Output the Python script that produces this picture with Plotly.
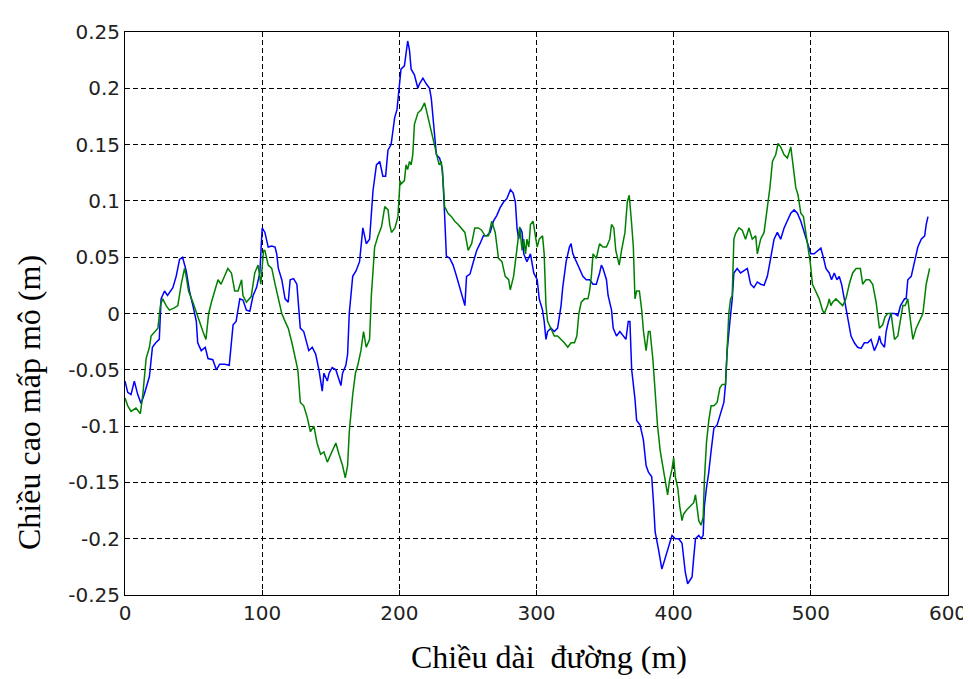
import plotly.graph_objects as go

# ---- data ----
blue_x = [0, 2, 4.4, 6.8, 9.3, 11.7, 14, 17.8, 20, 22.4, 25, 26.3, 28.8, 31, 34.9, 37.3, 39.8, 42, 44.6, 47,
          49.5, 52, 53, 55.6, 58.5, 60.5, 64, 66.6, 69, 72.7, 76, 78.8, 81, 83.7, 86, 88.5, 91, 93.4, 95.9, 98.3,
          100, 102, 104.4, 107, 109.4, 110.6, 111.8, 114.3, 116.7, 119, 120.4, 122.9, 125.3, 126.6, 127.8, 130.3,
          132.8, 134, 136.5, 139, 141.4, 143.8, 145, 147.5, 148.8, 151, 153.7, 156, 157.4, 158.6, 161, 162.3,
          163.5, 166, 168.5, 171, 173.4, 175.9, 178.3, 180.8, 183.3, 185.7, 188, 190, 191.7, 194, 196.6, 198.3,
          200.5, 201.2, 203.7, 206.1, 207.4, 208.6, 211, 213.5, 214.7, 217.2, 219.6, 222, 223.3, 225.7, 227,
          229.4, 231.4, 232.6, 233.6, 234.3, 236.8, 239.2, 241.7, 244.1, 246.6, 247.8, 249, 251.5, 254, 256.4,
          258.8, 261.3, 263.7, 266.2, 268.6, 271, 273.5, 276, 278.4, 281, 283, 284.6, 285.8, 287, 288.2, 289.5,
          290.7, 293, 295.6, 296.8, 298, 300.5, 302, 304.4, 305.6, 306.9, 308.1, 310.5, 313, 315.4, 316.7, 317.9,
          319.1, 320.3, 321.6, 324, 325.2, 326.5, 328.9, 331.4, 333.8, 336.3, 338.7, 341.2, 343.6, 346, 347.3,
          348.5, 351, 352.2, 354.7, 355.9, 358.3, 360.8, 363.2, 365.2, 366.9, 368.1, 369.4, 371.8, 373, 375.5,
          377.9, 379.9, 381.6, 384, 385.3, 386.5, 389, 391.4, 393.9, 396.3, 398.8, 401.2, 403.7, 406.1, 407.3,
          408.5, 410.2, 411.7, 413.4, 414.6, 415.9, 418.3, 420, 421.5, 422.4, 423.9, 425.6, 427.3, 429.3, 431.7,
          434.1, 436.6, 437.8, 439, 441, 442.7, 443.9, 446.3, 448.8, 451.2, 453.7, 456.1, 458.5, 461, 463.4,
          465.9, 468.3, 470.7, 473.2, 475.6, 478, 480.5, 482.9, 485.4, 487.8, 490.2, 492.7, 495.1, 497.6, 500,
          502.4, 504.9, 507.3, 509.3, 511, 513.4, 515.1, 517.1, 519, 520.7, 522.4, 524.4, 526.3, 528, 529.3,
          531.7, 534.1, 536.6, 539, 541.5, 543.9, 546.3, 548.8, 550, 551.2, 553.7, 554.9, 556.6, 558.5, 561,
          563.4, 565.4, 567, 568.3, 569.5, 570.7, 573.2, 575.6, 578, 580.5, 583, 584.1, 585.4]
blue_y = [-0.06, -0.07, -0.072, -0.06, -0.072, -0.08, -0.072, -0.056, -0.03, -0.026, -0.023, 0.013, 0.02, 0.016,
          0.023, 0.033, 0.048, 0.05, 0.038, 0.02, 0.007, -0.007, -0.026, -0.033, -0.03, -0.04, -0.041, -0.05,
          -0.045, -0.045, -0.046, -0.01, -0.007, 0.013, 0.012, 0.003, 0.002, 0.016, 0.023, 0.036,
          0.076, 0.072, 0.059, 0.06, 0.059, 0.053, 0.04, 0.03, 0.013, 0.01, 0.03, 0.031, 0.026, 0.007, -0.013,
          -0.016, -0.026, -0.033, -0.03, -0.036, -0.05, -0.069, -0.053, -0.06, -0.053, -0.048, -0.05, -0.06,
          -0.064, -0.053, -0.046, -0.036, 0.0, 0.033, 0.038, 0.046, 0.076, 0.062, 0.066, 0.109, 0.132, 0.135,
          0.122, 0.122, 0.145, 0.15, 0.174, 0.181, 0.214, 0.217, 0.22, 0.242, 0.234, 0.217, 0.212, 0.2, 0.204,
          0.209, 0.204, 0.2, 0.191, 0.158, 0.141, 0.138, 0.128, 0.099, 0.072, 0.051, 0.049, 0.043, 0.033, 0.023,
          0.013, 0.007, 0.033, 0.035, 0.046, 0.056, 0.062, 0.069, 0.069, 0.072, 0.082, 0.087, 0.094, 0.099,
          0.102, 0.11, 0.107, 0.099, 0.076, 0.066, 0.076, 0.072, 0.053, 0.046, 0.053, 0.046, 0.036, 0.03,
          0.013, 0.003, -0.007, -0.023, -0.016, -0.013, -0.016, -0.013, -0.003, 0.007, 0.023, 0.033, 0.046,
          0.059, 0.062, 0.053, 0.046, 0.04, 0.033, 0.03, 0.03, 0.026, 0.026, 0.036, 0.043, 0.04, 0.03, 0.016,
          0.003, -0.013, -0.02, -0.016, -0.02, -0.023, -0.007, -0.007, -0.05, -0.076, -0.095, -0.099, -0.112,
          -0.135, -0.141, -0.145, -0.168, -0.194, -0.21, -0.227, -0.217, -0.207, -0.197, -0.2, -0.2, -0.204,
          -0.22, -0.23, -0.24, -0.237, -0.234, -0.217, -0.2, -0.197, -0.2, -0.197, -0.171, -0.155, -0.141,
          -0.122, -0.102, -0.099, -0.089, -0.079, -0.063, -0.033, -0.007, 0.013, 0.036, 0.04, 0.036, 0.038,
          0.04, 0.026, 0.023, 0.028, 0.026, 0.025, 0.033, 0.049, 0.066, 0.072, 0.066, 0.076, 0.082, 0.089,
          0.092, 0.089, 0.082, 0.072, 0.062, 0.053, 0.053, 0.056, 0.058, 0.049, 0.04, 0.036, 0.03, 0.036, 0.03,
          0.033, 0.026, 0.013, 0.0, -0.013, -0.02, -0.026, -0.03, -0.031, -0.026, -0.026, -0.023, -0.033,
          -0.026, -0.02, -0.026, -0.03, -0.016, -0.007, 0.0, 0.0, -0.002, 0.007, 0.01, 0.013, 0.013, 0.03,
          0.033, 0.046, 0.059, 0.066, 0.069, 0.079, 0.086]

green_x = [0, 2, 4.4, 8, 11.2, 13, 15.4, 17.8, 19, 21.5, 24, 25.8, 27.5, 30, 32.4, 36, 38.5, 41, 43.4, 44.6,
           46.3, 49.5, 53, 56.8, 59, 61, 63, 65.4, 67.8, 70, 72.7, 75, 77.6, 80, 82.4, 85, 86, 88.5, 92, 94.6,
           97, 99, 101, 102, 104.4, 107, 109.4, 111.8, 114.3, 116.7, 119, 121.7, 124, 126, 127.8, 130.3, 132.8,
           135.2, 137.7, 140, 142.6, 145, 147.5, 150, 153.7, 156, 158.6, 160.6, 162.3, 163.5, 166, 168, 169.7,
           172, 173.9, 175.9, 178.3, 179.6, 182, 184.5, 187, 189.4, 191.8, 193, 194.3, 196.8, 199, 200.5,
           201.2, 203.7, 204.9, 206.1, 207.4, 208.6, 209.8, 211, 213.5, 216, 218.4, 219.6, 222, 224.5, 227,
           229, 230.6, 231.9, 233, 235.5, 238, 240.4, 242.9, 245.3, 247.8, 250.2, 252.7, 255, 257.6, 260,
           262.5, 265, 267.4, 269.9, 272.3, 274.8, 277.2, 279.7, 280.9, 283.3, 285.8, 287.7, 289.5, 290.7, 292,
           293, 294.4, 295.6, 297.5, 299.3, 300.5, 302, 304.4, 305.6, 306.9, 308.1, 310.5, 313, 315.4, 317.9,
           320.3, 322.8, 325.2, 327.7, 329.4, 330.9, 332.6, 335, 337.5, 338.7, 340, 341.2, 343.6, 346, 348.5,
           351, 353.4, 354.7, 356.4, 357.8, 360.3, 362, 364.5, 366.2, 367.6, 369.4, 370.6, 371.8, 373, 375,
           376.7, 378, 379.9, 381.6, 382.8, 384.8, 386.5, 388.2, 390.2, 392.2, 393.9, 395.6, 397, 398.8, 400,
           401.2, 403, 404.4, 406.1, 407.3, 409.8, 412.2, 414.6, 415.9, 417.1, 418.3, 420, 421.5, 422.4, 423.9,
           425.6, 427.3, 429.3, 431.7, 433.7, 435.4, 437.8, 439, 440.2, 441.5, 442.7, 443.9, 445.1, 447.6, 450,
           452.4, 454.9, 457.3, 459.8, 461, 463.4, 465.9, 468.3, 470.2, 472, 474.4, 476.1, 478, 480.5, 482.9,
           485.4, 487.8, 489, 490.7, 492.7, 494.6, 496.3, 497.6, 499.5, 501.2, 503.7, 506.1, 508.5, 509.8,
           512.2, 513.4, 514.6, 515.9, 518.3, 520.7, 523.2, 525.6, 528, 530.5, 533, 536.1, 537.8, 540.2, 542.7,
           545.1, 547.6, 550, 552.4, 554.1, 556.1, 558.5, 561, 563.4, 565.4, 567.1, 568.8, 570.7, 572.7, 574.4,
           576.8, 579.3, 581.7, 584.1, 586.6]
green_y = [-0.075, -0.082, -0.087, -0.084, -0.089, -0.072, -0.04, -0.03, -0.02, -0.016, -0.013, 0.007, 0.013,
           0.007, 0.003, 0.005, 0.007, 0.026, 0.04, 0.033, 0.02, 0.01, -0.003, -0.016, -0.023, 0.0, 0.01, 0.02,
           0.03, 0.026, 0.033, 0.04, 0.036, 0.02, 0.02, 0.03, 0.016, 0.01, 0.015, 0.036, 0.043, 0.026, 0.056,
           0.056, 0.043, 0.04, 0.026, 0.013, 0.0, -0.007, -0.013, -0.026, -0.04, -0.05, -0.079, -0.082, -0.092,
           -0.105, -0.1, -0.115, -0.125, -0.123, -0.132, -0.125, -0.115, -0.125, -0.135, -0.146, -0.135,
           -0.105, -0.072, -0.053, -0.046, -0.033, -0.016, -0.03, -0.023, 0.016, 0.059, 0.069, 0.077, 0.095,
           0.092, 0.079, 0.072, 0.076, 0.086, 0.118, 0.115, 0.118, 0.132, 0.128, 0.135, 0.132, 0.141, 0.168,
           0.178, 0.181, 0.187, 0.181, 0.168, 0.155, 0.141, 0.132, 0.135, 0.118, 0.095, 0.089, 0.086, 0.082,
           0.079, 0.076, 0.072, 0.056, 0.062, 0.076, 0.076, 0.074, 0.069, 0.069, 0.082, 0.072, 0.049, 0.046,
           0.033, 0.03, 0.021, 0.033, 0.056, 0.077, 0.056, 0.066, 0.053, 0.066, 0.059, 0.079, 0.082, 0.069,
           0.059, 0.066, 0.069, 0.053, 0.007, -0.007, -0.013, -0.02, -0.02, -0.023, -0.026, -0.03, -0.026,
           -0.026, -0.02, 0.0, 0.01, 0.013, 0.013, 0.02, 0.033, 0.053, 0.049, 0.062, 0.059, 0.059, 0.066,
           0.079, 0.076, 0.056, 0.043, 0.056, 0.072, 0.099, 0.105, 0.079, 0.059, 0.013, 0.02, 0.02, 0.003,
           -0.016, -0.033, -0.016, -0.016, -0.04, -0.072, -0.099, -0.122, -0.138, -0.148, -0.161, -0.148,
           -0.138, -0.128, -0.145, -0.155, -0.171, -0.184, -0.178, -0.174, -0.171, -0.168, -0.161, -0.171,
           -0.184, -0.188, -0.181, -0.148, -0.115, -0.095, -0.082, -0.082, -0.079, -0.066, -0.063, -0.063,
           -0.033, 0.0, 0.013, 0.016, 0.066, 0.071, 0.076, 0.074, 0.066, 0.076, 0.066, 0.069, 0.053, 0.066,
           0.072, 0.095, 0.112, 0.135, 0.141, 0.151, 0.148, 0.141, 0.138, 0.148, 0.125, 0.112, 0.105, 0.089,
           0.086, 0.072, 0.059, 0.046, 0.026, 0.02, 0.013, 0.003, 0.0, 0.007, 0.013, 0.007, 0.01, 0.013, 0.01,
           0.007, 0.013, 0.026, 0.036, 0.04, 0.04, 0.026, 0.03, 0.03, 0.026, 0.01, -0.013, -0.01, -0.003, 0.0,
           0.0, -0.023, -0.02, -0.007, 0.007, 0.007, 0.013, -0.007, -0.023, -0.013, -0.007, 0.0, 0.026, 0.04]

x_ticks = [0, 100, 200, 300, 400, 500, 600]
x_ticktext = ["0", "100", "200", "300", "400", "500", "600"]
y_ticks = [-0.25, -0.2, -0.15, -0.1, -0.05, 0, 0.05, 0.1, 0.15, 0.2, 0.25]
y_ticktext = ["-0.25", "-0.2", "-0.15", "-0.1", "-0.05", "0", "0.05", "0.1", "0.15", "0.2", "0.25"]
x_title = "Chiều dài  đường (m)"
y_title = "Chiều cao mấp mô (m)"

fig = go.Figure()
fig.add_trace(go.Scatter(x=blue_x, y=blue_y, mode="lines",
                         line=dict(color="#0000ff", width=1.5), showlegend=False))
fig.add_trace(go.Scatter(x=green_x, y=green_y, mode="lines",
                         line=dict(color="#008000", width=1.5), showlegend=False))

axis_common = dict(
    showline=True, linecolor="black", linewidth=1, mirror="ticks",
    ticks="inside", ticklen=5, tickcolor="black", tickwidth=1,
    showgrid=True, gridcolor="black", gridwidth=1, griddash="5px,3px",
    zeroline=False,
    tickfont=dict(family="DejaVu Sans, sans-serif", size=20, color="#222222"),
)

fig.update_xaxes(range=[0, 600], tickvals=x_ticks, ticktext=x_ticktext, **axis_common)
fig.update_yaxes(range=[-0.25, 0.25], tickvals=y_ticks, ticktext=y_ticktext, **axis_common)

fig.update_layout(
    width=971, height=679,
    margin=dict(l=117, r=29, t=14, b=92, pad=0),
    paper_bgcolor="white", plot_bgcolor="white",
    annotations=[
        dict(text=x_title, xref="paper", yref="paper", x=0.515, y=-0.11,
             xanchor="center", yanchor="middle", showarrow=False,
             font=dict(family="Liberation Serif, Times New Roman, serif", size=32, color="black")),
        dict(text=y_title, xref="paper", yref="paper", x=-0.116, y=0.342,
             xanchor="center", yanchor="middle", showarrow=False, textangle=-90,
             font=dict(family="Liberation Serif, Times New Roman, serif", size=32, color="black")),
    ],
)

fig.write_html("out.html")
